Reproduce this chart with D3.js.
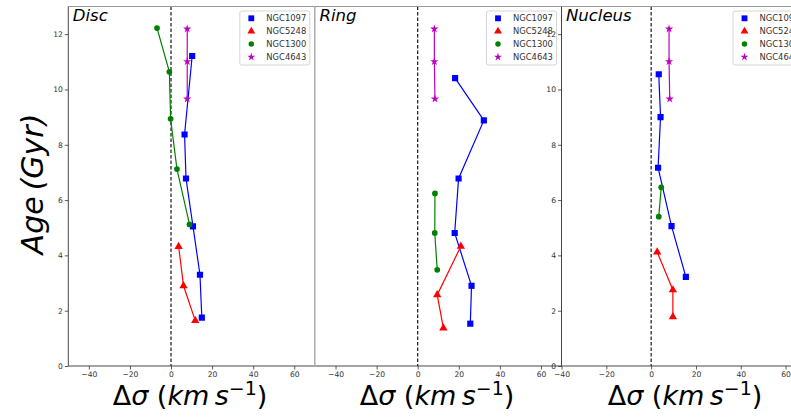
<!DOCTYPE html>
<html><head><meta charset="utf-8">
<script src="https://cdn.jsdelivr.net/npm/d3@7"></script>
<style>
body{margin:0;background:#fff;}
svg{display:block;font-family:"DejaVu Sans",sans-serif;}
</style></head>
<body>
<svg id="c" width="791" height="418"></svg>
<script>
// ---- data: [Δσ (km/s), Age (Gyr)] ----
const galaxies = ["NGC1097","NGC5248","NGC1300","NGC4643"];
const panelNames = ["Disc","Ring","Nucleus"];
const xTicks = [-40,-20,0,20,40,60];
const yTicks = [0,2,4,6,8,10,12];

const disc_NGC1097 = [[10.3,11.21],[6.6,8.37],[7.3,6.78],[10.7,5.05],[14.1,3.30],[15.0,1.75]];
const disc_NGC5248 = [[3.7,4.32],[6.1,2.90],[11.8,1.64]];
const disc_NGC1300 = [[-6.8,12.22],[-0.8,10.64],[-0.2,8.94],[2.9,7.12],[9.0,5.12]];
const disc_NGC4643 = [[7.9,12.19],[7.9,11.01],[7.9,9.66]];

const ring_NGC1097 = [[18.2,10.41],[32.2,8.88],[19.9,6.78],[18.0,4.81],[26.2,2.90],[25.6,1.53]];
const ring_NGC5248 = [[21.0,4.33],[9.5,2.57],[12.5,1.37]];
const ring_NGC1300 = [[8.4,6.24],[8.3,4.81],[9.5,3.48]];
const ring_NGC4643 = [[8.1,12.19],[8.1,11.01],[8.4,9.66]];

const nucleus_NGC1097 = [[3.4,10.55],[4.2,9.00],[3.1,7.17],[9.1,5.06],[15.5,3.22]];
const nucleus_NGC5248 = [[2.7,4.12],[9.7,2.75],[9.7,1.78]];
const nucleus_NGC1300 = [[4.5,6.46],[3.4,5.40]];
const nucleus_NGC4643 = [[8.0,12.19],[8.0,11.01],[8.3,9.66]];

const xDomains = [[-50,70],[-50,70],[-40,70]];
const yDomain = [0,13];

// ---- styles ----
const colors = {NGC1097:"#0000ff",NGC5248:"#ff0000",NGC1300:"#008000",NGC4643:"#bf00bf"};
const symbols = {NGC1097:d3.symbolSquare,NGC5248:d3.symbolTriangle,NGC1300:d3.symbolCircle,NGC4643:d3.symbolStar};
const symSize = {NGC1097:38,NGC5248:30,NGC1300:26,NGC4643:22};

const panelData = [
  {NGC1097:disc_NGC1097,NGC5248:disc_NGC5248,NGC1300:disc_NGC1300,NGC4643:disc_NGC4643},
  {NGC1097:ring_NGC1097,NGC5248:ring_NGC5248,NGC1300:ring_NGC1300,NGC4643:ring_NGC4643},
  {NGC1097:nucleus_NGC1097,NGC5248:nucleus_NGC5248,NGC1300:nucleus_NGC1300,NGC4643:nucleus_NGC4643}
];

const svg = d3.select("#c");
const topY = 6.5, bottomY = 366;
const panelLeft = [68.3, 315, 561.5];
const panelW = 246.5;

const y = d3.scaleLinear().domain(yDomain).range([bottomY, topY]);

panelData.forEach((pd, i) => {
  const L = panelLeft[i], R = L + panelW;
  const x = d3.scaleLinear().domain(xDomains[i]).range([L, R]);
  const g = svg.append("g");
  const clipId = "clip"+i;
  g.append("clipPath").attr("id",clipId).append("rect")
    .attr("x",L).attr("y",topY).attr("width",panelW).attr("height",bottomY-topY);
  g.append("rect").attr("x",L).attr("y",topY).attr("width",panelW).attr("height",bottomY-topY).attr("fill","#fff");

  // x axis
  const xa = g.append("g").attr("transform",`translate(0,${bottomY})`)
    .call(d3.axisBottom(x).tickValues(xTicks).tickSize(3.5).tickPadding(2).tickFormat(d=>d<0?"\u2212"+(-d):d));
  xa.select(".domain").remove();
  xa.selectAll("line").attr("stroke","#333").attr("stroke-width",0.8);
  xa.selectAll("text").attr("font-size",7.6).attr("fill","#333").attr("font-family","DejaVu Sans");

  // y axis (not on Ring)
  if (i !== 1) {
    const ya = g.append("g").attr("transform",`translate(${L},0)`)
      .call(d3.axisLeft(y).tickValues(yTicks).tickSize(3.5).tickPadding(2));
    ya.select(".domain").remove();
    ya.selectAll("line").attr("stroke","#333").attr("stroke-width",0.8);
    ya.selectAll("text").attr("font-size",7.6).attr("fill","#333").attr("font-family","DejaVu Sans");
  }

  const plot = g.append("g").attr("clip-path",`url(#${clipId})`);
  // dashed zero line
  plot.append("line").attr("x1",x(0)).attr("x2",x(0)).attr("y1",topY).attr("y2",bottomY)
    .attr("stroke","#000").attr("stroke-width",1.1).attr("stroke-dasharray","3.5,2");

  const line = d3.line().x(d=>x(d[0])).y(d=>y(d[1]));
  galaxies.forEach(name => {
    const pts = pd[name];
    plot.append("path").attr("d",line(pts)).attr("fill","none")
      .attr("stroke",colors[name]).attr("stroke-width",1.2);
    plot.selectAll(null).data(pts).enter().append("path")
      .attr("d",d3.symbol().type(symbols[name]).size(symSize[name]))
      .attr("transform",d=>`translate(${x(d[0])},${y(d[1])})`)
      .attr("fill",colors[name]);
  });

  // spines
  const sp = g.append("g");
  sp.append("line").attr("x1",L).attr("x2",R).attr("y1",bottomY).attr("y2",bottomY).attr("stroke","#333").attr("stroke-width",0.9);
  sp.append("line").attr("x1",L).attr("x2",R).attr("y1",topY).attr("y2",topY).attr("stroke","#999").attr("stroke-width",1);
  sp.append("line").attr("x1",L).attr("x2",L).attr("y1",topY).attr("y2",bottomY)
    .attr("stroke", i===1 ? "#999" : "#333").attr("stroke-width",0.9);
  sp.append("line").attr("x1",R).attr("x2",R).attr("y1",topY).attr("y2",bottomY)
    .attr("stroke", "#999").attr("stroke-width",0.9);

  // title
  g.append("text").attr("x",L+4.5).attr("y",topY+14.5).attr("font-size",16.5)
    .attr("font-style","italic").attr("fill","#000").text(panelNames[i]);

  // legend
  const lg = g.append("g").attr("transform",`translate(${R-75},${topY+4.5})`);
  lg.append("rect").attr("x",0).attr("y",0).attr("width",70).attr("height",54).attr("rx",2)
    .attr("fill","#fff").attr("fill-opacity",0.8).attr("stroke","#ccc").attr("stroke-width",0.8);
  galaxies.forEach((name,k) => {
    const yy = 7.3 + k*12.9;
    lg.append("path").attr("d",d3.symbol().type(symbols[name]).size(symSize[name]*0.9))
      .attr("transform",`translate(11.5,${yy})`).attr("fill",colors[name]);
    lg.append("text").attr("x",26.5).attr("y",yy+3).attr("font-size",8.4).attr("fill","#333").text(name);
  });

  // x label
  const lx = [190, 437, 685][i];
  const t = g.append("text").attr("x",lx).attr("y",405).attr("text-anchor","middle")
    .attr("font-size",27).attr("fill","#000");
  t.append("tspan").text("\u0394");
  t.append("tspan").attr("font-style","italic").text("\u03C3");
  t.append("tspan").text(" (");
  t.append("tspan").attr("font-style","italic").text("km\u2009s");
  t.append("tspan").attr("font-size",19).attr("dy",-10).text("\u22121");
  t.append("tspan").attr("dy",10).text(")");
});

// y label
svg.append("text").attr("transform","translate(43,184) rotate(-90)").attr("text-anchor","middle")
  .attr("font-size",30).attr("font-style","italic").attr("fill","#000").text("Age\u2009(Gyr)");
</script>
</body></html>
